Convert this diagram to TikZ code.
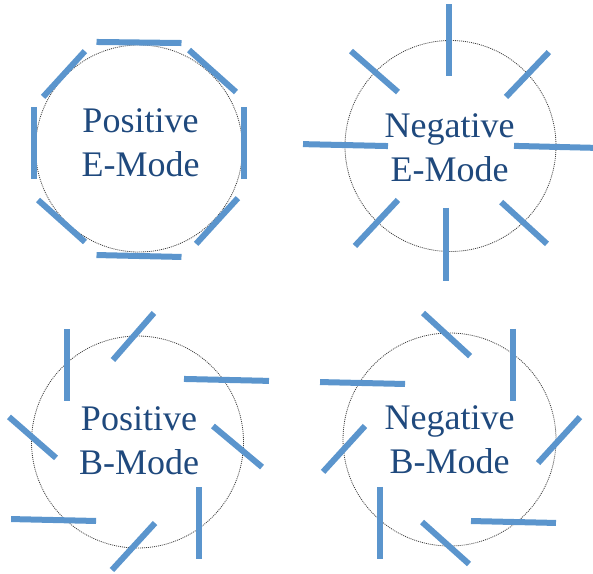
\documentclass[tikz,border=0pt]{standalone}
\usepackage{fontspec}
\setmainfont{Liberation Serif}
\definecolor{stickblue}{RGB}{91,149,205}
\definecolor{labelblue}{RGB}{31,73,125}
\usetikzlibrary{calc}
\tikzset{
  modering/.style={draw=black!75, line width=0.8pt, dash pattern=on 1pt off 1pt},
  stick/.style={draw=stickblue, line width=6pt},
  modelabel/.style={font=\fontsize{36}{44}\selectfont, text=labelblue, align=center, inner sep=0pt, anchor=base},
}

\begin{document}
\begin{tikzpicture}[x=1pt, y=1pt]
  \useasboundingbox (0,0) rectangle (593,573);
  % ring centres
  \coordinate (pe) at (139,424.5);
  \coordinate (ne) at (450.5,427);
  \coordinate (pb) at (137.5,131);
  \coordinate (nb) at (449.5,133.5);
  \foreach \c/\r in {pe/103.5, ne/105.5, pb/106, nb/106.5} \draw[modering] (\c) circle (\r);
  % sticks: angle/radius of midpoint, direction/half length
  \foreach \a/\r/\d/\h in {90/106/-0.7/42.5, 46.5/106.8/-41.8/31.5, 3/105/90/36, -42.9/106.5/47.6/31,
      270/107.5/-1.3/42.5, 223.1/106.1/-41.8/31.5, 177/105/90/36, 135.2/105.7/47.6/31}
    \draw[stick] ($(pe)+(\a:\r)+(\d:\h)$) -- ($(pe)+(\a:\r)-(\d:\h)$);
  \foreach \a/\r/\d/\h in {90.8/106/90/36, 42.9/105/46.3/31, -0.5/106/-1.4/42.5, -46.3/106.5/-42.4/31,
      267.4/98.6/90/36.5, 226.1/106.8/46.9/31.5, 179.5/105/-1.3/42.5, 135.6/106.4/-41.1/31.2}
    \draw[stick] ($(ne)+(\a:\r)+(\d:\h)$) -- ($(ne)+(\a:\r)-(\d:\h)$);
  \foreach \a/\r/\d/\h in {132.5/104.4/90/36, 92.2/105.6/48.9/31.2, 34.9/108.5/-1.3/42.5, -2.6/100.1/-39.9/32,
      -52.8/101.7/90/36, 267.8/104.6/47.5/31.9, 222.9/114.6/-1.3/42.5, 177.5/105.1/-41.1/31.2}
    \draw[stick] ($(pb)+(\a:\r)+(\d:\h)$) -- ($(pb)+(\a:\r)-(\d:\h)$);
  \foreach \a/\r/\d/\h in {91.6/105/-42.5/31.9, 49.6/97.9/90/36, -0.3/109.5/47.6/31.1, -52.2/104.4/-1.3/42.5,
      267.8/103.6/-41.8/31.5, 230.2/108.6/90/36, 185.1/105.9/47.6/31.1, 147/103.7/-1.3/42.5}
    \draw[stick] ($(nb)+(\a:\r)+(\d:\h)$) -- ($(nb)+(\a:\r)-(\d:\h)$);
  % labels (base = baseline of the second line)
  \node[modelabel] (pelabel) at ($(pe)+(1.5,-28.5)$) {Positive\\E-Mode};
  \node[modelabel] (nelabel) at ($(ne)+(-1,-35.5)$) {Negative\\E-Mode};
  \node[modelabel] (pblabel) at ($(pb)+(1.5,-32)$) {Positive\\B-Mode};
  \node[modelabel] (nblabel) at ($(nb)+(0,-33.5)$) {Negative\\B-Mode};
\end{tikzpicture}
\end{document}
